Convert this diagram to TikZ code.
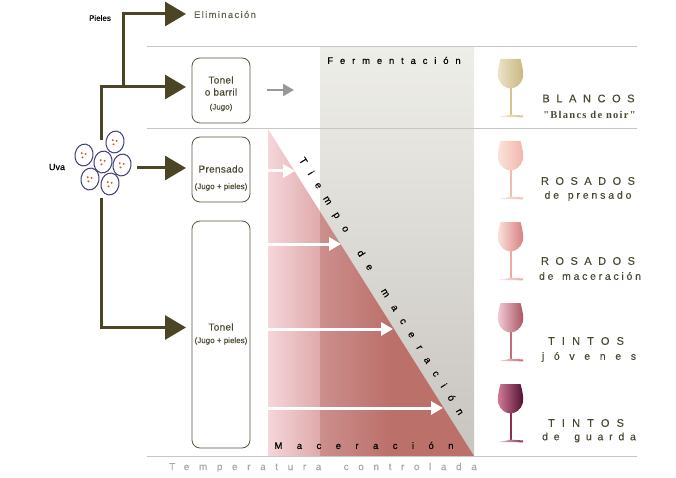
\documentclass[tikz,border=0pt]{standalone}
\usepackage{fontspec}
\usepackage{xcolor}
\usepackage{tikz}
\usetikzlibrary{arrows.meta,positioning,shapes.geometric}
\setmainfont{Liberation Sans}
\newfontfamily\glassserif{Liberation Serif}
\definecolor{flowolive}{HTML}{4B4526}
\definecolor{boxedge}{HTML}{5A5438}
\definecolor{ruling}{HTML}{C6C6C6}
\definecolor{panellight}{HTML}{EEEEE9}
\definecolor{paneldark}{HTML}{C8C4BF}
\definecolor{grapeblue}{HTML}{3F3A78}
\definecolor{grapeseed}{HTML}{C8602C}
\definecolor{wineink}{HTML}{4A4630}
\definecolor{pinkpale}{HTML}{F5D6DB}
\definecolor{pinkmid}{HTML}{DFA9AA}
\definecolor{rosemid}{HTML}{CC8F8D}
\definecolor{rosedark}{HTML}{BC706A}
\definecolor{whiteL}{HTML}{ECE4CC}
\definecolor{whiteR}{HTML}{C8B67E}
\definecolor{whiteS}{HTML}{D6C48E}
\definecolor{pressL}{HTML}{FBE4DC}
\definecolor{pressR}{HTML}{F2B4A8}
\definecolor{pressS}{HTML}{F2BCB0}
\definecolor{macerL}{HTML}{FBE4DC}
\definecolor{macerR}{HTML}{D67C7E}
\definecolor{macerS}{HTML}{EDA9A4}
\definecolor{youngL}{HTML}{F4CFDC}
\definecolor{youngR}{HTML}{A8505E}
\definecolor{youngS}{HTML}{C86A78}
\definecolor{agedL}{HTML}{D87C9C}
\definecolor{agedR}{HTML}{4C0E2C}
\definecolor{agedS}{HTML}{8E2E50}
\newcommand{\spaced}[2]{\fontsize{#1}{#1}\selectfont\addfontfeature{LetterSpace=#2,FakeBold=0.25}}

\begin{document}
\begin{tikzpicture}[
    x=1pt, y=-1pt,
    ruleline/.style={draw=ruling, line width=1pt},
    vessel/.style={rectangle, draw=boxedge, rounded corners=8pt, line width=0.8pt, minimum width=58pt, inner sep=0pt},
    vesselname/.style={font=\spaced{10}{3}, text=wineink, inner sep=0pt},
    vesselnote/.style={font=\spaced{8}{0}, text=wineink, inner sep=0pt},
    flow/.style={draw=flowolive, line width=3pt, -{Triangle[length=21pt,width=24pt,fill=flowolive]}},
    macarrow/.style={draw=white, line width=3pt, -{Triangle[length=12pt,width=13pt]}},
    grape/.style={ellipse, draw=grapeblue, line width=1pt, fill=white, minimum width=18pt, minimum height=22pt, inner sep=0pt, rotate=-10,
        path picture={
            \fill[grapeseed] (path picture bounding box.center) ++(-2.5pt,1pt) circle (1.1pt);
            \fill[grapeseed] (path picture bounding box.center) ++(1.5pt,1pt) circle (1.1pt);
            \fill[grapeseed] (path picture bounding box.center) ++(-1pt,-3pt) circle (1.1pt);
        }},
    winetitle/.style={text=wineink, inner sep=0pt},
    winesub/.style={text=wineink, inner sep=0pt},
    pics/wineglass/.style n args={3}{code={
        \path[left color=#1, right color=#2] (2.5,0) -- (22.5,0) .. controls (24.5,7) and (26,15) .. (24.8,19) .. controls (23,26) and (17,29.5) .. (12.5,29.5) .. controls (8,29.5) and (2,26) .. (0.2,19) .. controls (-1,15) and (0.5,7) .. (2.5,0) -- cycle;
        \fill[#3] (11.7,29) rectangle (13.7,56);
        \path[left color=#3!25, right color=#3] (0,58) .. controls (6,57) and (10,56.5) .. (12.5,55.5) .. controls (15,56) and (20,56) .. (25,56.5) -- (25,58.3) -- cycle;
    }},
]
    \useasboundingbox (0,0) rectangle (676,478);

    % Fermentation panel
    \path[top color=panellight, bottom color=paneldark] (320,47) rectangle (474,456);

    % Maceration wedge
    \begin{scope}
        \clip (268,129) -- (474,456) -- (268,456) -- cycle;
        \path[left color=pinkpale, right color=pinkmid] (268,129) rectangle (320,456);
        \path[left color=rosemid, right color=rosedark] (320,129) rectangle (390,456);
        \fill[rosedark] (389.5,129) rectangle (474,456);
    \end{scope}

    % Rules
    \draw[ruleline] (147,47) -- (637,47);
    \draw[ruleline] (147,129) -- (637,129);
    \draw[ruleline] (147,456) -- (637,456);

    % Vessels
    \node[vessel, minimum height=65pt] (barrel) at (221,90.5) {};
    \node[vessel, minimum height=65pt] (press) at (221,169.5) {};
    \node[vessel, minimum height=227pt] (vat) at (221,334.5) {};

    % Vessel labels
    \node[vesselname] (barrelname) at (221,80) {Tonel};
    \node[vesselname] (barrelname2) at (221,92) {o barril};
    \node[vesselnote] (barrelnote) at (221,107.5) {(Jugo)};
    \node[vesselname] (pressname) at (221,169) {Prensado};
    \node[vesselnote] (pressnote) at (221,187) {(Jugo + pieles)};
    \node[vesselname] (vatname) at (221,327) {Tonel};
    \node[vesselnote] (vatnote) at (221,341) {(Jugo + pieles)};

    % Grapes
    \node[grape] (grapeA) at (115,142) {};
    \node[grape] (grapeB) at (84,155) {};
    \node[grape] (grapeC) at (103,162) {};
    \node[grape] (grapeD) at (122,165) {};
    \node[grape] (grapeE) at (90,179) {};
    \node[grape] (grapeF) at (110,184) {};
    \node[font=\spaced{9}{0}, inner sep=0pt] (uva) at (57,167) {Uva};

    % Flow ends
    \coordinate (skinsfrom) at (123,87);
    \coordinate (skinsto) at (186,14);
    \coordinate (juicefrom) at (101,140.5);
    \coordinate (juiceto) at (186,87);
    \coordinate (pressfrom) at (137,168);
    \coordinate (pressto) at (186,168);
    \coordinate (vatfrom) at (101,198);
    \coordinate (vatto) at (186,327.5);

    % Flows
    \draw[flow] (skinsfrom) |- (skinsto);
    \draw[flow] (juicefrom) |- (juiceto);
    \draw[flow] (pressfrom) -- (pressto);
    \draw[flow] (vatfrom) |- (vatto);
    \node[font=\spaced{8}{0}, inner sep=0pt] (pieles) at (100,18) {Pieles};
    \node[font=\spaced{9.5}{14}, text=wineink!85, inner sep=0pt] (elimination) at (225,14.5) {Eliminación};

    % Fermentation arrow
    \coordinate (fermfrom) at (267,90);
    \coordinate (fermto) at (294,90);
    \draw[draw=black!40, line width=2.5pt, -{Triangle[length=11pt,width=12pt]}] (fermfrom) -- (fermto);

    % Maceration arrows
    \coordinate (macA) at (268,171);
    \coordinate (macAto) at (295,171);
    \coordinate (macB) at (268,244);
    \coordinate (macBto) at (341,244);
    \coordinate (macC) at (268,329);
    \coordinate (macCto) at (393,329);
    \coordinate (macD) at (268,408);
    \coordinate (macDto) at (443,408);
    \draw[macarrow] (macA) -- (macAto);
    \draw[macarrow] (macB) -- (macBto);
    \draw[macarrow] (macC) -- (macCto);
    \draw[macarrow] (macD) -- (macDto);

    % Panel texts
    \node[font=\spaced{9.5}{72}, inner sep=0pt] (fermentation) at (394,60.5) {Fermentación};
    \node[font=\spaced{9.5}{152}, inner sep=0pt] (maceracion) at (364,445.5) {Maceración};
    \node[font=\spaced{10}{106}, inner sep=0pt, rotate=-58] (tiempo) at (381,286.5) {Tiempo\hspace{10pt} de\hspace{10pt} maceración};
    \node[font=\spaced{10}{96}, text=black!35, inner sep=0pt] (temperature) at (323,467.5) {Temperatura\hspace{10pt} controlada};

    % Glasses
    \pic at (498,59) {wineglass={whiteL}{whiteR}{whiteS}};
    \pic at (498,141) {wineglass={pressL}{pressR}{pressS}};
    \pic at (498,222) {wineglass={macerL}{macerR}{macerS}};
    \pic at (498,303) {wineglass={youngL}{youngR}{youngS}};
    \pic at (498,384) {wineglass={agedL}{agedR}{agedS}};

    % Wine names
    \node[winetitle, font=\spaced{11}{60}] (blancos) at (588.5,98.5) {BLANCOS};
    \node[font=\glassserif\fontsize{10.5}{10.5}\selectfont\addfontfeature{LetterSpace=12}\bfseries, text=wineink, inner sep=0pt] (noir) at (589.5,115) {"Blancs de noir"};
    \node[winetitle, font=\spaced{11}{59}] (rosadosA) at (588,181) {ROSADOS};
    \node[winesub, font=\spaced{10.5}{27}] (prensado) at (588,196) {de\hspace{3pt} prensado};
    \node[winetitle, font=\spaced{11}{59}] (rosadosB) at (588,261) {ROSADOS};
    \node[winesub, font=\spaced{10.5}{26}] (macerado) at (590,276) {de\hspace{3pt} maceración};
    \node[winetitle, font=\spaced{11}{65}] (tintosA) at (586,341) {TINTOS};
    \node[winesub, font=\spaced{10.5}{92}] (jovenes) at (589,357) {jóvenes};
    \node[winetitle, font=\spaced{11}{65}] (tintosB) at (586,423) {TINTOS};
    \node[winesub, font=\spaced{10.5}{55}] (guarda) at (589,437.5) {de\hspace{6pt} guarda};
\end{tikzpicture}
\end{document}
